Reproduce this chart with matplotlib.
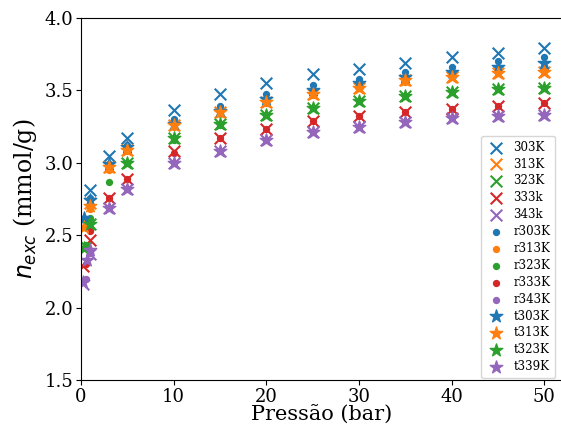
import matplotlib
matplotlib.use('Agg')
import matplotlib.pyplot as plt

plt.rcParams['font.family'] = 'DejaVu Serif'
plt.rcParams['mathtext.fontset'] = 'dejavusans'

colors = ['#1f77b4', '#ff7f0e', '#2ca02c', '#d62728', '#9467bd']

# experimental isotherms (x markers)
p_303 = [1, 3, 5, 10, 15, 20, 25, 30, 35, 40, 45, 50]
n_303 = [2.81, 3.05, 3.17, 3.365, 3.475, 3.55, 3.61, 3.65, 3.69, 3.73, 3.755, 3.795]
p_313 = [0.5, 1, 3, 5, 10, 15, 20, 25, 30, 35, 40, 45, 50]
n_313 = [2.57, 2.72, 2.97, 3.09, 3.26, 3.35, 3.42, 3.475, 3.52, 3.57, 3.595, 3.62, 3.63]
p_323 = [0.5, 1, 5, 10, 15, 20, 25, 30, 35, 40, 45, 50]
n_323 = [2.42, 2.58, 3.00, 3.17, 3.27, 3.33, 3.38, 3.43, 3.46, 3.49, 3.51, 3.52]
p_333 = [0.2, 1, 3, 5, 10, 15, 20, 25, 30, 35, 40, 45, 50]
n_333 = [2.29, 2.47, 2.76, 2.89, 3.08, 3.17, 3.23, 3.29, 3.32, 3.35, 3.375, 3.39, 3.41]
p_343 = [0.2, 1, 3, 5, 10, 15, 20, 25, 30, 35, 40, 45, 50]
n_343 = [2.16, 2.37, 2.69, 2.82, 3.00, 3.08, 3.16, 3.21, 3.25, 3.28, 3.31, 3.32, 3.33]

# r-series (dots)
p_r = [0.5, 1, 3, 5, 10, 15, 20, 25, 30, 35, 40, 45, 50]
r_303 = [2.61, 2.76, 2.99, 3.12, 3.30, 3.39, 3.475, 3.54, 3.58, 3.625, 3.66, 3.705, 3.73]
r_313 = [2.55, 2.68, 2.95, 3.08, 3.25, 3.34, 3.41, 3.47, 3.52, 3.56, 3.59, 3.62, 3.64]
r_323 = [2.43, 2.62, 2.87, 3.00, 3.16, 3.26, 3.33, 3.38, 3.43, 3.46, 3.49, 3.51, 3.52]
r_333 = [2.30, 2.53, 2.76, 2.89, 3.07, 3.17, 3.23, 3.29, 3.32, 3.35, 3.37, 3.39, 3.41]
r_343 = [2.20, 2.38, 2.69, 2.82, 3.00, 3.08, 3.16, 3.21, 3.25, 3.28, 3.31, 3.32, 3.33]

# t-series (stars)
p_t = [0.3, 1, 3, 5, 10, 15, 20, 25, 30, 35, 40, 45, 50]
t_303 = [2.62, 2.74, 2.99, 3.11, 3.27, 3.36, 3.44, 3.50, 3.55, 3.59, 3.625, 3.66, 3.69]
t_313 = [2.56, 2.70, 2.97, 3.09, 3.26, 3.35, 3.42, 3.475, 3.52, 3.57, 3.595, 3.62, 3.63]
p_t323 = [0.3, 1, 5, 10, 15, 20, 25, 30, 35, 40, 45, 50]
t_323 = [2.41, 2.58, 3.00, 3.17, 3.27, 3.33, 3.38, 3.43, 3.46, 3.49, 3.51, 3.52]
p_t339 = [0.2, 0.6, 1, 3, 5, 10, 15, 20, 25, 30, 35, 40, 45, 50]
t_339 = [2.18, 2.33, 2.40, 2.69, 2.82, 3.00, 3.08, 3.16, 3.21, 3.25, 3.28, 3.31, 3.32, 3.33]

fig = plt.figure(figsize=(5.61, 4.28), dpi=100)
ax = fig.add_axes([81 / 561, 48 / 428, 481 / 561, 362 / 428])

exp_sets = [(p_303, n_303, '303K'), (p_313, n_313, '313K'), (p_323, n_323, '323K'),
            (p_333, n_333, '333k'), (p_343, n_343, '343k')]
for i, (p, n, lab) in enumerate(exp_sets):
    ax.scatter(p, n, marker='x', s=70, linewidths=1.5, color=colors[i], label=lab)

r_sets = [(r_303, 'r303K'), (r_313, 'r313K'), (r_323, 'r323K'), (r_333, 'r333K'), (r_343, 'r343K')]
for i, (n, lab) in enumerate(r_sets):
    ax.scatter(p_r, n, marker='o', s=18, color=colors[i], label=lab)

t_sets = [(p_t, t_303, 0, 't303K'), (p_t, t_313, 1, 't313K'),
          (p_t323, t_323, 2, 't323K'), (p_t339, t_339, 4, 't339K')]
for p, n, c, lab in t_sets:
    ax.scatter(p, n, marker='*', s=90, color=colors[c], label=lab)

ax.set_xlim(0, 51.9)
ax.set_ylim(1.5, 4.0)
ax.set_xticks([0, 10, 20, 30, 40, 50])
ax.set_yticks([1.5, 2.0, 2.5, 3.0, 3.5, 4.0])
ax.tick_params(labelsize=13, pad=2)
ax.set_xlabel('Pressão (bar)', fontsize=15, labelpad=-1)
ax.set_ylabel(r'$n_{exc}$ (mmol/g)', fontsize=17, labelpad=4)
ax.spines['right'].set_visible(False)

ax.legend(loc='lower right', bbox_to_anchor=(555 / 561, 50 / 428),
          bbox_transform=fig.transFigure, borderaxespad=0, fontsize=8.5,
          handlelength=1.6, handletextpad=0.7, labelspacing=0.33)

fig.savefig('out.png', dpi=100)
